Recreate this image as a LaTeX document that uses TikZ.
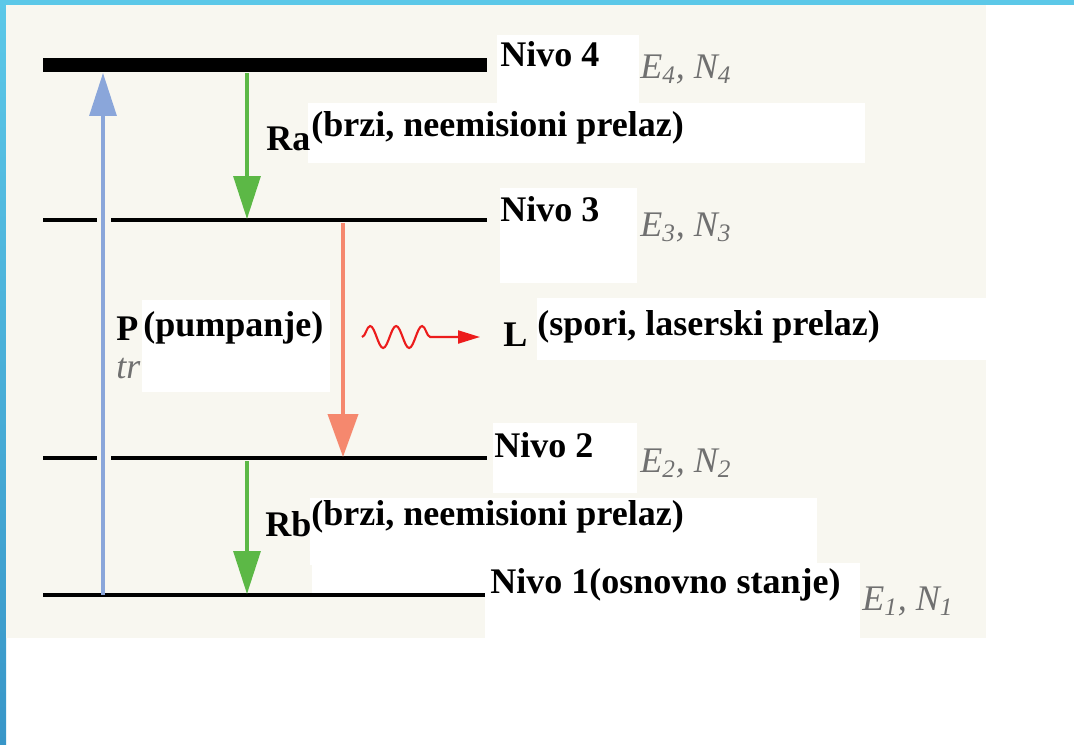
\documentclass[tikz,border=0pt]{standalone}
\usepackage{fontspec}
\setmainfont{Liberation Serif}
\usetikzlibrary{arrows.meta, decorations.pathmorphing}
\definecolor{bordcyan}{RGB}{92,200,232}
\definecolor{bordblue}{RGB}{56,150,200}
\definecolor{fond}{RGB}{248,247,240}
\definecolor{pumpblue}{RGB}{138,166,218}
\definecolor{relaxgreen}{RGB}{92,184,70}
\definecolor{lasersalmon}{RGB}{245,136,110}
\definecolor{photonred}{RGB}{236,28,28}
\definecolor{energygray}{RGB}{112,112,112}
\tikzset{
  niveau/.style={line width=2.8pt, black},
  boite/.style={fill=white},
  etiq/.style={anchor=base west, inner sep=0pt, font=\fontsize{20.5}{24}\selectfont\bfseries},
  energie/.style={anchor=base west, inner sep=0pt, text=energygray, font=\fontsize{20.5}{24}\selectfont\itshape},
  grosse/.style={-{Triangle[length=8.6mm, width=5.4mm]}},
}

\begin{document}
\begin{tikzpicture}[x=0.02cm, y=-0.02cm]
        \useasboundingbox (0,0) rectangle (1074,744);
        % Bordure de la diapo
        \fill[bordcyan] (0,0) rectangle (1074,5);
        \shade[top color=bordcyan, bottom color=bordblue] (0,0) rectangle (6,744);
        \fill[fond] (6,5) rectangle (986,638);

        % Texte cache sous la boite de P
        \node[energie] (tr) at (116,378) {tr};

        % Boites blanches derriere les textes
        \fill[boite] (497,35) rectangle (639,103);
        \fill[boite] (308,103) rectangle (865,163);
        \fill[boite] (500,188) rectangle (637,283);
        \fill[boite] (142,300) rectangle (330,392);
        \fill[boite] (537,298) rectangle (1000,360);
        \fill[boite] (493,423) rectangle (637,493);
        \fill[boite] (310,498) rectangle (817,565);
        \fill[boite] (312,552) rectangle (485,595);
        \fill[boite] (485,563) rectangle (860,638);

        % Niveaux d'energie
        \coordinate (n4g) at (43,65);   \coordinate (n4d) at (487,65);
        \coordinate (n3g) at (43,220);  \coordinate (n3d) at (487,220);
        \coordinate (n2g) at (43,458);  \coordinate (n2d) at (487,458);
        \coordinate (n1g) at (43,595);  \coordinate (n1d) at (485,595);
        \draw[black, line width=8.5pt] (n4g) -- (n4d);
        \draw[niveau] (n3g) -- (97,220) (111,220) -- (n3d);
        \draw[niveau] (n2g) -- (97,458) (111,458) -- (n2d);
        \draw[niveau] (n1g) -- (n1d);

        % Transitions
        \coordinate (p1) at (103,595);  \coordinate (p4) at (103,73);
        \coordinate (ra4) at (247,73);  \coordinate (ra3) at (247,219);
        \coordinate (l3) at (343,223);  \coordinate (l2) at (343,457);
        \coordinate (rb2) at (247,461); \coordinate (rb1) at (247,594);
        \coordinate (w1) at (362,337);  \coordinate (w2) at (480,337);
        \draw[pumpblue, line width=1.8pt, grosse] (p1) -- (p4);
        \draw[relaxgreen, line width=1.8pt, grosse] (ra4) -- (ra3);
        \draw[relaxgreen, line width=1.8pt, grosse] (rb2) -- (rb1);
        \draw[lasersalmon, line width=2.2pt, -{Triangle[length=8.6mm, width=6mm]}] (l3) -- (l2);
        \draw[photonred, line width=1.2pt, decorate,
              decoration={snake, segment length=0.52cm, amplitude=0.22cm, post length=0.8cm},
              -{Triangle[length=4.4mm, width=2.6mm]}] (w1) -- (w2);

        % Etiquettes
        \node[etiq] (nivo4) at (500,66) {Nivo 4};
        \node[energie] (e4) at (640,78) {E\textsubscript{4}, N\textsubscript{4}};
        \node[etiq] (ra) at (266,150) {Ra};
        \node[etiq] (ratxt) at (311,136) {(brzi, neemisioni prelaz)};
        \node[etiq] (nivo3) at (500,221) {Nivo 3};
        \node[energie] (e3) at (640,236) {E\textsubscript{3}, N\textsubscript{3}};
        \node[etiq] (p) at (116,340) {P};
        \node[etiq] (ptxt) at (143,336) {(pumpanje)};
        \node[etiq] (l) at (503,346) {L};
        \node[etiq] (ltxt) at (537,335) {(spori, laserski prelaz)};
        \node[etiq] (nivo2) at (494,457) {Nivo 2};
        \node[energie] (e2) at (640,472) {E\textsubscript{2}, N\textsubscript{2}};
        \node[etiq] (rb) at (265,536) {Rb};
        \node[etiq] (rbtxt) at (311,525) {(brzi, neemisioni prelaz)};
        \node[etiq] (nivo1) at (490,593) {Nivo 1(osnovno stanje)};
        \node[energie] (e1) at (862,610) {E\textsubscript{1}, N\textsubscript{1}};
    \end{tikzpicture}
\end{document}
